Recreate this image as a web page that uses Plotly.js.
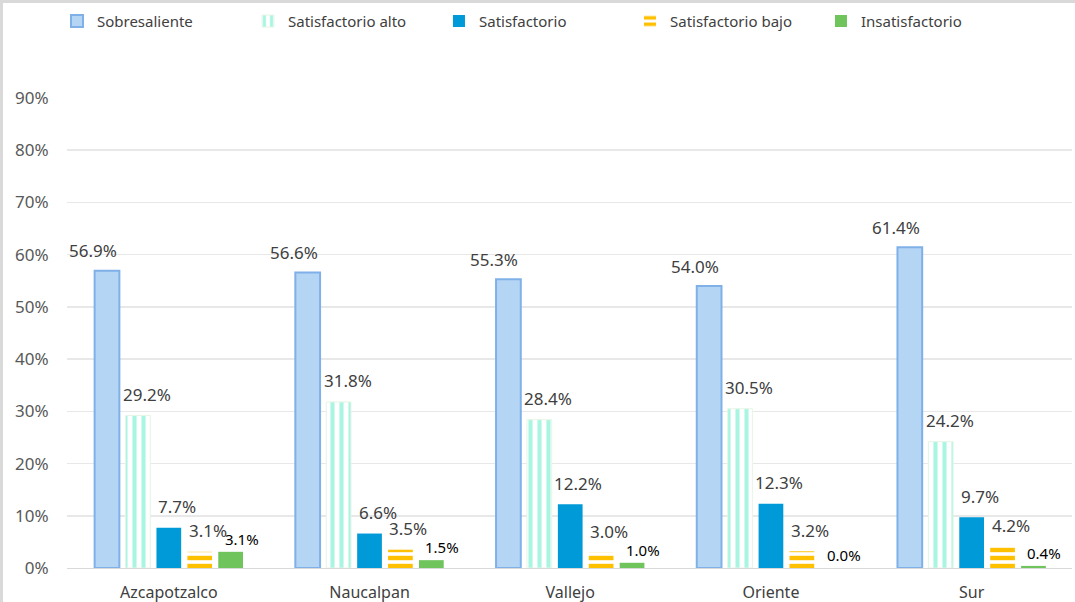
<!DOCTYPE html>
<html>
<head>
<meta charset="utf-8">
<script src="https://cdn.plot.ly/plotly-3.0.1.min.js"></script>
<style>
  html, body { margin: 0; padding: 0; background: #fff; }
  #frame { position: absolute; left: 0; top: 0; width: 1075px; height: 602px; box-sizing: border-box; border-left: 3px solid #d9d9d9; border-top: 3px solid #d9d9d9; }
  #chart { position: absolute; left: 0; top: 0; width: 1075px; height: 602px; }
</style>
</head>
<body>
<div id="chart"></div>
<div id="frame"></div>
<script>
const categories = ["Azcapotzalco", "Naucalpan", "Vallejo", "Oriente", "Sur"];
const seriesNames = ["Sobresaliente", "Satisfactorio alto", "Satisfactorio", "Satisfactorio bajo", "Insatisfactorio"];
const sobresaliente = [56.9, 56.6, 55.3, 54.0, 61.4];
const satisfactorioAlto = [29.2, 31.8, 28.4, 30.5, 24.2];
const satisfactorio = [7.7, 6.6, 12.2, 12.3, 9.7];
const satisfactorioBajo = [3.1, 3.5, 3.0, 3.2, 4.2];
const insatisfactorio = [3.1, 1.5, 1.0, 0.0, 0.4];
const yTickVals = [0, 10, 20, 30, 40, 50, 60, 70, 80, 90];

const allValues = [sobresaliente, satisfactorioAlto, satisfactorio, satisfactorioBajo, insatisfactorio];

const FONT = "Noto Sans, Open Sans, sans-serif";
const BARGAP = 0.23, GROUPGAP = 0.2;

const markers = [
  { color: "#b5d5f5", line: { color: "#7fb0e8", width: 2 } },
  { color: "#ffffff", line: { color: "#e6f5e6", width: 1 },
    pattern: { shape: "|", fgcolor: "#a8f5e2", bgcolor: "#ffffff", size: 9, solidity: 0.45, fillmode: "replace" } },
  { color: "#009ad8", line: { width: 0 } },
  { color: "#ffffff", line: { width: 0 },
    pattern: { shape: "-", fgcolor: "#ffc000", bgcolor: "#ffffff", size: 8, solidity: 0.55, fillmode: "replace" } },
  { color: "#70c45c", line: { width: 0 } }
];

const traces = seriesNames.map((name, j) => ({
  type: "bar",
  name: name,
  x: categories,
  y: allValues[j],
  marker: markers[j],
  hoverinfo: "x+y+name"
}));

// label styling per series
const labelStyle = [
  { dx: -14, dy: 20, color: "#404040", size: 17 },
  { dx: 9, dy: 21, color: "#404040", size: 17 },
  { dx: 8, dy: 21, color: "#404040", size: 17 },
  { dx: 8, dy: 21, color: "#404040", size: 17 },
  { dx: 11, dy: 13, color: "#000000", size: 15 }
];

const nS = seriesNames.length;
const slot = (1 - BARGAP) / nS;
const annotations = [];
allValues.forEach((vals, j) => {
  vals.forEach((v, i) => {
    annotations.push({
      x: i - (1 - BARGAP) / 2 + slot * (j + 0.5),
      y: v,
      xref: "x", yref: "y",
      text: v.toFixed(1) + "%",
      showarrow: false,
      xanchor: "center", yanchor: "middle",
      xshift: labelStyle[j].dx, yshift: labelStyle[j].dy,
      font: { family: FONT, size: labelStyle[j].size, color: labelStyle[j].color }
    });
  });
});

const layout = {
  width: 1075, height: 602,
  margin: { l: 67, r: 3, t: 98, b: 34 },
  paper_bgcolor: "#ffffff", plot_bgcolor: "#ffffff",
  barmode: "group", bargap: BARGAP, bargroupgap: GROUPGAP,
  showlegend: true,
  legend: {
    orientation: "h", xref: "container", yref: "container",
    x: 0.053, y: 0.992, xanchor: "left", yanchor: "top",
    entrywidth: 146, entrywidthmode: "pixels",
    font: { family: FONT, size: 15, color: "#404040" },
    itemwidth: 30, tracegroupgap: 0
  },
  xaxis: {
    type: "category",
    showgrid: false, showline: true, linecolor: "#d9d9d9", linewidth: 1,
    ticks: "outside", ticklen: 10, tickcolor: "rgba(0,0,0,0)",
    tickfont: { family: FONT, size: 16, color: "#404040" },
    fixedrange: true
  },
  yaxis: {
    range: [0, 90],
    tickvals: yTickVals,
    ticktext: yTickVals.map(v => v + "%"),
    showgrid: true, gridcolor: "#e8e8e8", gridwidth: 1.5,
    zeroline: false, showline: false,
    ticks: "outside", ticklen: 14, tickcolor: "rgba(0,0,0,0)",
    tickfont: { family: FONT, size: 17, color: "#595959" },
    fixedrange: true
  },
  annotations: annotations
};

Plotly.newPlot("chart", traces, layout, { displayModeBar: false, staticPlot: true });
</script>
</body>
</html>
